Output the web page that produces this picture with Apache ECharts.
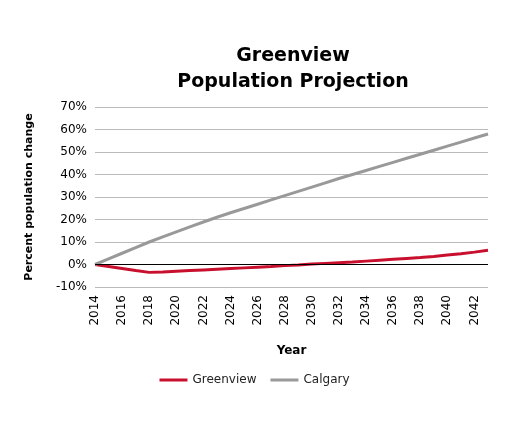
<!DOCTYPE html>
<html><head><meta charset="utf-8">
<script src="https://cdn.jsdelivr.net/npm/echarts@6/dist/echarts.min.js"></script>
<style>html,body{margin:0;background:#fff}#c{width:509px;height:425px}</style>
</head><body><div id="c"></div>
<script>
var years = []
for (var y = 2014; y <= 2043; y++) years.push(String(y))
var greenview = [0, -0.9, -1.8, -2.7, -3.5, -3.3, -3.0, -2.7, -2.4, -2.1, -1.8, -1.5, -1.2, -0.9, -0.5, -0.2, 0.2, 0.5, 0.8, 1.1, 1.5, 1.9, 2.3, 2.7, 3.1, 3.6, 4.2, 4.8, 5.5, 6.3]
var calgary = [0, 2.5, 5, 7.5, 10, 12.3, 14.5, 16.7, 18.9, 21, 23, 24.9, 26.8, 28.7, 30.6, 32.5, 34.4, 36.3, 38.2, 40, 41.8, 43.6, 45.4, 47.2, 49, 50.8, 52.6, 54.4, 56.2, 58]

var myChart = echarts.init(document.getElementById('c'))
var font = 'DejaVu Sans'
myChart.setOption({
  animation: false,
  textStyle: {fontFamily: font},
  title: {
    text: 'Greenview\nPopulation Projection',
    left: 288, top: 38, textAlign: 'center',
    textStyle: {fontSize: 19, fontWeight: 'bold', color: '#000', lineHeight: 26, fontFamily: font}
  },
  legend: {
    bottom: 34, left: 'center', itemWidth: 28, itemHeight: 3, itemGap: 14,
    textStyle: {fontSize: 12, color: '#222'}, icon: 'rect',
    data: ['Greenview', 'Calgary']
  },
  grid: {left: 95, right: 21, top: 107, bottom: 138},
  xAxis: {
    type: 'category', data: years, boundaryGap: false,
    name: 'Year', nameLocation: 'middle', nameGap: 58,
    nameTextStyle: {fontWeight: 'bold', fontSize: 12, color: '#000'},
    axisLine: {show: false}, axisTick: {show: false},
    axisLabel: {interval: 1, rotate: 90, fontSize: 12, color: '#000', margin: 8}
  },
  yAxis: {
    type: 'value', min: -10, max: 70, interval: 10,
    name: 'Percent population change', nameLocation: 'middle', nameGap: 60,
    nameTextStyle: {fontWeight: 'bold', fontSize: 11, color: '#000'},
    axisLabel: {formatter: '{value}%', fontSize: 12, color: '#000'},
    axisLine: {show: false}, axisTick: {show: false},
    splitLine: {lineStyle: {color: '#bbb'}}
  },
  series: [
    {name: 'Greenview', type: 'line', data: greenview, showSymbol: false,
      lineStyle: {color: '#c8102e', width: 3}, itemStyle: {color: '#c8102e'},
      markLine: {silent: true, symbol: 'none', label: {show: false},
        lineStyle: {color: '#000', width: 1, type: 'solid'}, data: [{yAxis: 0}]}},
    {name: 'Calgary', type: 'line', data: calgary, showSymbol: false,
      lineStyle: {color: '#999', width: 3}, itemStyle: {color: '#999'}}
  ]
})
</script></body></html>
